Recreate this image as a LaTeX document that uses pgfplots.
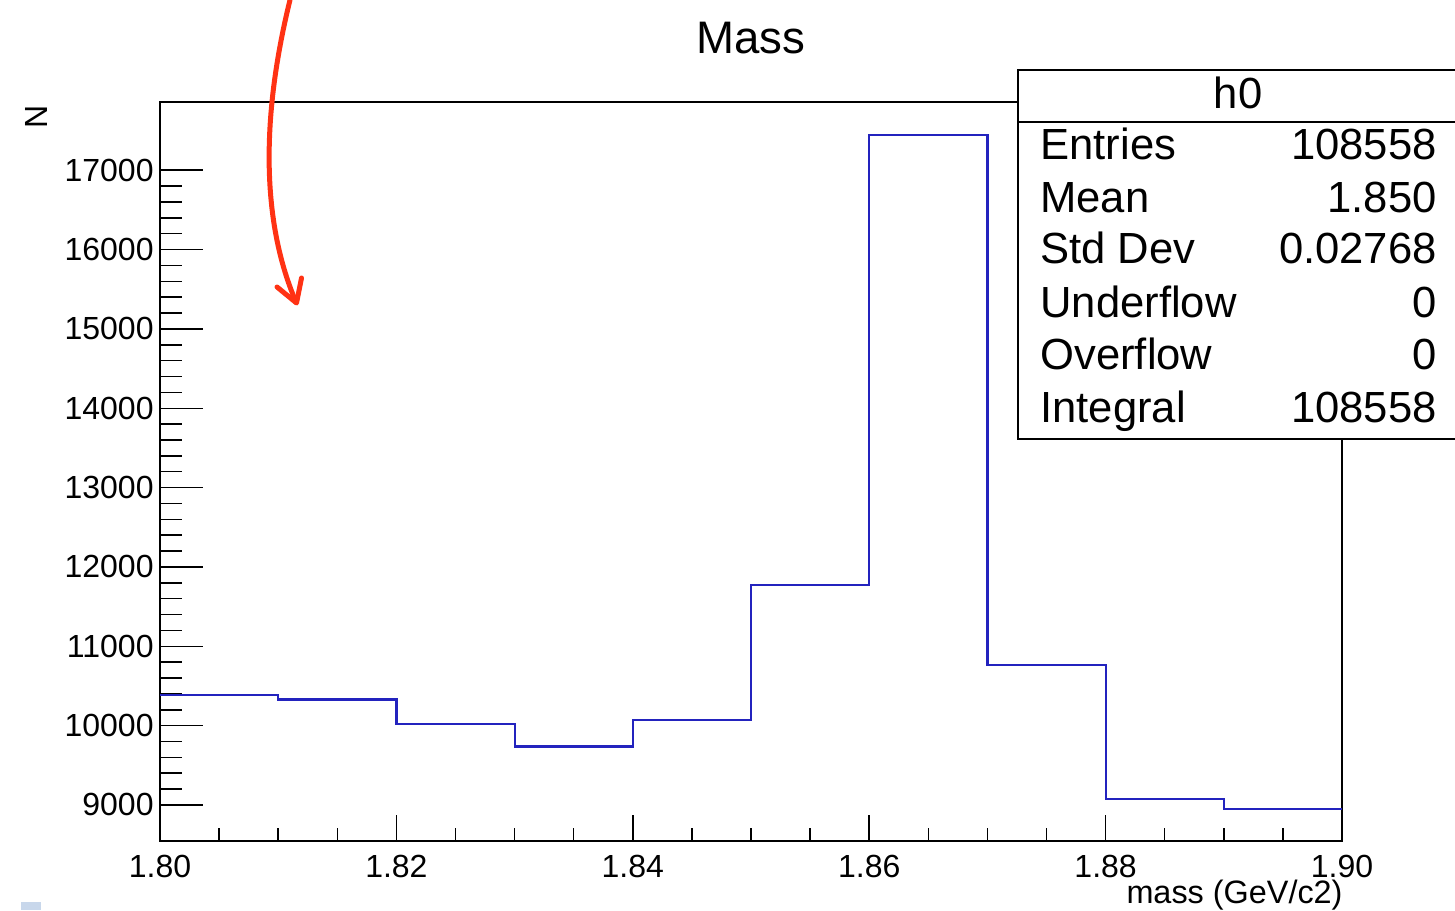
\documentclass[border=0pt]{standalone}
\usepackage{fontspec}
\setmainfont{Liberation Sans}
\usepackage{pgfplots}
\pgfplotsset{compat=1.18}

\definecolor{histblue}{RGB}{35,35,190}
\definecolor{arrowred}{RGB}{255,50,20}
\definecolor{boxblue}{RGB}{200,215,235}

% common frame of the ROOT pad: 1 px = 0.5pt
\pgfplotsset{
  rootframe/.style={
    at={(80pt,34.5pt)}, anchor=south west,
    scale only axis, width=591pt, height=369.5pt,
    xmin=1.80, xmax=1.90, ymin=8546, ymax=17860,
    tick align=inside, xtick pos=bottom, ytick pos=left,
    scaled x ticks=false, scaled y ticks=false,
    /pgf/number format/assume math mode=true,
    tick style={black, line width=0.75pt},
  },
}

\begin{document}
\begin{tikzpicture}
\useasboundingbox (0,0) rectangle (727.5pt,455pt);

% frame, y ticks, histogram
\begin{axis}[rootframe,
  axis line style={black, line width=1pt},
  xtick=\empty,
  ytick={9000,10000,...,17000}, minor y tick num=4,
  major tick length=21.5pt, minor tick length=11pt,
  yticklabel style={font=\fontsize{16}{19}\selectfont, anchor=east, inner sep=0pt, xshift=-3pt,
    /pgf/number format/1000 sep={}},
  title={Mass},
  % the default title style already shifts up by 6pt
  title style={at={(axis description cs:0.5,1.0659)}, anchor=base, inner sep=0pt, yshift=-6pt,
    font=\fontsize{22.8}{26}\selectfont},
  ylabel={N},
  ylabel style={at={(axis description cs:-0.095,0.9959)}, anchor=base east, inner sep=0pt,
    font=\fontsize{16}{19}\selectfont},
]
\addplot[const plot, histblue, line width=1.1pt, mark=none] coordinates {
  (1.80,10386) (1.81,10330) (1.82,10021) (1.83,9738) (1.84,10069)
  (1.85,11775) (1.86,17441) (1.87,10766) (1.88,9072) (1.89,8953)
  (1.90,8953)
};
\end{axis}

% x ticks (shorter, as in ROOT)
\begin{axis}[rootframe,
  axis line style={draw=none},
  ytick=\empty,
  xtick={1.80,1.82,1.84,1.86,1.88,1.90}, minor x tick num=3,
  major tick length=13pt, minor tick length=6.5pt,
  xticklabel style={font=\fontsize{16}{19}\selectfont, anchor=north, inner sep=0pt, yshift=-7pt,
    /pgf/number format/.cd, fixed, fixed zerofill, precision=2},
  xlabel={mass (GeV/c2)},
  xlabel style={at={(axis description cs:1.0008,-0.0839)}, anchor=base east, inner sep=0pt,
    font=\fontsize{16.2}{19}\selectfont},
]
\end{axis}

\begin{scope}[x=0.5pt, y=0.5pt]
  % statistics box (runs off the right edge)
  \fill[white] (1017.5,471) rectangle (1455,840);
  \draw[black, line width=1pt] (1455,840) -- (1017.5,840) -- (1017.5,471) -- (1455,471);
  \draw[black, line width=1pt] (1017.5,788.3) -- (1455,788.3);
  \begin{scope}[every node/.style={inner sep=0pt, font=\fontsize{21.8}{24}\selectfont}]
    \node[anchor=base] at (1238,801.7) {h0};
    \node[anchor=base west] at (1040,750)   {Entries};
    \node[anchor=base west] at (1040,697.3) {Mean};
    \node[anchor=base west] at (1040,646)   {Std Dev};
    \node[anchor=base west] at (1040,592)   {Underflow};
    \node[anchor=base west] at (1040,540)   {Overflow};
    \node[anchor=base west] at (1040,487)   {Integral};
    \node[anchor=base east] at (1437,750)   {108558};
    \node[anchor=base east] at (1437,697.3) {1.850};
    \node[anchor=base east] at (1437,646)   {0.02768};
    \node[anchor=base east] at (1437,592)   {0};
    \node[anchor=base east] at (1437,540)   {0};
    \node[anchor=base east] at (1437,487)   {108558};
  \end{scope}

  % hand-drawn red arrow
  \draw[arrowred, line width=2.5pt, line cap=round]
    (290,910) .. controls (258,780) and (265,680) .. (296,608);
  \draw[arrowred, line width=2.5pt, line cap=round, line join=round]
    (277,623) -- (296.5,607) -- (301.5,632);

  % small light-blue mark in the corner
  \fill[boxblue] (21,0) rectangle (41,8);
\end{scope}
\end{tikzpicture}
\end{document}
